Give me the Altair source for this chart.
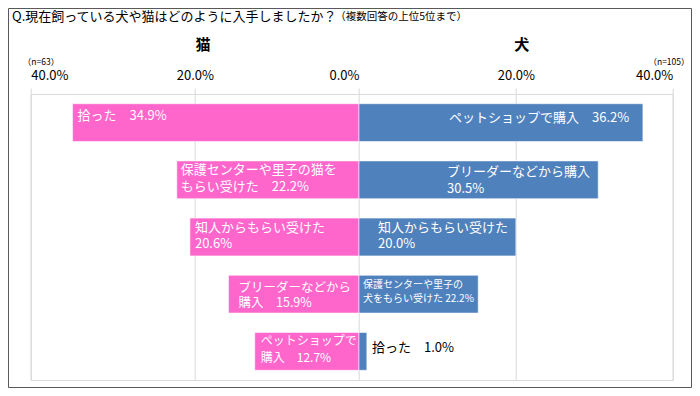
import altair as alt
import pandas as pd

FONT = "Noto Sans CJK JP"

# ---- data ----
rank = [1, 2, 3, 4, 5]
cat_values = [34.9, 22.2, 20.6, 15.9, 12.7]
cat_labels = [
    "拾った　34.9%",
    "保護センターや里子の猫を\nもらい受けた　22.2%",
    "知人からもらい受けた\n20.6%",
    "ブリーダーなどから\n購入　15.9%",
    "ペットショップで\n購入　12.7%",
]
# bar lengths as drawn in the picture (the 4th dog bar is drawn shorter than its label says)
dog_values = [36.2, 30.5, 20.0, 15.2, 1.0]
dog_labels = [
    "ペットショップで購入　36.2%",
    "ブリーダーなどから購入\n30.5%",
    "知人からもらい受けた\n20.0%",
    "保護センターや里子の\n犬をもらい受けた  22.2%",
    "拾った　1.0%",
]
left_ticks = [0, 20, 40]
right_ticks = [20, 40]
title_main = "Q.現在飼っている犬や猫はどのように入手しましたか？"
title_sub = "（複数回答の上位5位まで）"
cat_head, dog_head = "猫", "犬"
cat_n, dog_n = "（n=63）", "（n=105）"

cat_df = pd.DataFrame({"rank": rank, "value": cat_values, "label": cat_labels})
dog_df = pd.DataFrame({"rank": rank, "value": dog_values, "label": dog_labels})

W, H = 642, 286
CENTER = 328.3
PINK = "#FF66CC"
BLUE = "#4F81BD"
GRID = "#d9d9d9"

left_scale = alt.Scale(domain=[0, 40], range=[CENTER, 0])
right_scale = alt.Scale(domain=[0, 40], range=[CENTER, W])
y_scale = alt.Scale(paddingInner=0.34, paddingOuter=0.17)
Y = alt.Y("rank:O", scale=y_scale, axis=None)

fmt = "format(datum.value, '.1f') + '%'"


def axis(vals):
    return alt.Axis(orient="top", values=vals, labelExpr=fmt, grid=True,
                    gridColor=GRID, domainColor=GRID, tickColor=GRID,
                    tickSize=6, labelPadding=6, labelFontSize=13,
                    labelFont=FONT, labelColor="#000000", title=None)


left_bars = alt.Chart(cat_df).mark_bar(
    color=PINK, stroke="#ffffff", strokeWidth=1, strokeOpacity=0.55
).encode(x=alt.X("value:Q", scale=left_scale, axis=axis(left_ticks)), y=Y)

right_bars = alt.Chart(dog_df).mark_bar(
    color=BLUE, stroke="#ffffff", strokeWidth=1, strokeOpacity=0.55
).encode(x=alt.X("value:Q", scale=right_scale, axis=axis(right_ticks)), y=Y)

# label styles: (dx, dy of first line, fontSize, lineHeight, color)
cat_style = [(5, -6.6, 13, 17, "white"), (4, -9.8, 13, 16.7, "white"), (5, -9.3, 13, 16.6, "white"),
             (10, -6.5, 12.5, 15.6, "white"), (6, -10.7, 12, 17.6, "white")]
dog_style = [(90, -4.3, 13, 17, "white"), (88, -8.1, 13, 17.3, "white"), (19, -9.3, 13, 16.6, "white"),
             (4, -9.2, 10, 14.3, "white"), (13, -3.1, 13, 17, "#000000")]

label_layers = []
for r, (dx, dy, fs, lh, col) in zip(rank, cat_style):
    label_layers.append(
        alt.Chart(cat_df).transform_filter(alt.datum.rank == r).mark_text(
            align="left", baseline="middle", dx=dx, dy=dy, fontSize=fs,
            lineHeight=lh, color=col, font=FONT, lineBreak="\n"
        ).encode(x=alt.X("value:Q", scale=left_scale, axis=None), y=Y, text="label:N")
    )
for r, (dx, dy, fs, lh, col) in zip(rank, dog_style):
    label_layers.append(
        alt.Chart(dog_df).transform_filter(alt.datum.rank == r).transform_calculate(
            base="0"
        ).mark_text(
            align="left", baseline="middle", dx=dx, dy=dy, fontSize=fs,
            lineHeight=lh, color=col, font=FONT, lineBreak="\n"
        ).encode(x=alt.X("base:Q", scale=right_scale, axis=None), y=Y, text="label:N")
    )


def free_text(txt, x, y, size, weight="normal", align="left"):
    return alt.Chart(pd.DataFrame({"t": [txt]})).mark_text(
        align=align, baseline="middle", fontSize=size, fontWeight=weight,
        font=FONT, color="#000000", clip=False
    ).encode(x=alt.value(x), y=alt.value(y), text="t:N")


texts = [
    free_text(title_main, -18.7, -77, 13),
    free_text(title_sub, 304.5, -77, 10.5),
    free_text(cat_head, 172.3, -49, 15, "bold", "center"),
    free_text(dog_head, 491, -49, 15, "bold", "center"),
    free_text(cat_n, 10.3, -32.5, 8.5, align="center"),
    free_text(dog_n, 638.3, -32.5, 8.5, align="center"),
]

frame = alt.Chart(pd.DataFrame({"a": [0]})).mark_rect(
    filled=False, stroke="#595959", strokeWidth=1, clip=False
).encode(x=alt.value(-22.2), x2=alt.value(660.8), y=alt.value(-85.5), y2=alt.value(293.5))

chart = alt.layer(
    frame, left_bars, right_bars, *label_layers, *texts
).resolve_scale(x="independent").properties(
    width=W, height=H,
    padding={"left": 22.7, "top": 86, "right": 19.3, "bottom": 8},
    autosize=alt.AutoSizeParams(type="none"),
    background="white",
).configure_view(stroke=GRID)

chart.save("out.html", embed_options={"renderer": "svg", "actions": False})
